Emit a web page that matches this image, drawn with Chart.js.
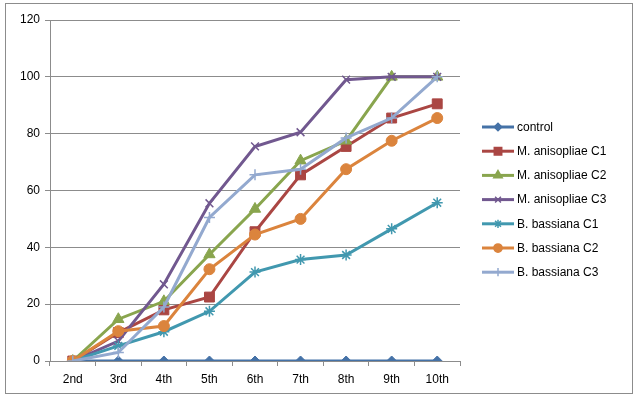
<!DOCTYPE html>
<html>
<head>
<meta charset="UTF-8" />
<style>
 body { margin: 0; background: #fff; }
 #wrap { width: 638px; height: 401px; position: relative; }
</style>
</head>
<body>
<div id="wrap"><canvas id="chart"></canvas></div>
<script src="https://cdn.jsdelivr.net/npm/chart.js@4/dist/chart.umd.min.js"></script>
<script>
// categories (instar)
const categories = ['2nd', '3rd', '4th', '5th', '6th', '7th', '8th', '9th', '10th']

// series values
const control = [0, 0, 0, 0, 0, 0, 0, 0, 0]
const mAnisopliaeC1 = [0, 10, 18, 22.5, 45.5, 65.5, 75.5, 85.5, 90.5]
const mAnisopliaeC2 = [0, 14.7, 21, 37.5, 53.5, 70.5, 77.5, 100, 100]
const mAnisopliaeC3 = [0, 7, 27, 55.5, 75.5, 80.5, 99, 100, 100]
const bBassianaC1 = [0, 5.3, 10.3, 17.5, 31.3, 35.7, 37.3, 46.5, 55.7]
const bBassianaC2 = [0, 10.5, 12.3, 32.3, 44.5, 50, 67.5, 77.5, 85.5]
const bBassianaC3 = [0, 3, 19, 50.5, 65.5, 67.5, 78.5, 85.5, 100]

const seriesNames = ['control', 'M. anisopliae C1', 'M. anisopliae C2', 'M. anisopliae C3',
 'B. bassiana C1', 'B. bassiana C2', 'B. bassiana C3']
const seriesData = [control, mAnisopliaeC1, mAnisopliaeC2, mAnisopliaeC3, bBassianaC1, bBassianaC2, bBassianaC3]
const seriesColors = ['#4572A7', '#AA4643', '#89A54E', '#71588F', '#4198AF', '#DB843D', '#93A9CF']
const seriesMarkers = ['rectRot', 'rect', 'triangle', 'crossRot', 'star', 'circle', 'cross']
const markerSizes = [5, 7, 6.5, 5.5, 5.5, 5.5, 5.5]

const yTicks = [0, 20, 40, 60, 80, 100, 120]

const gridColor = '#8c8c8c'

// border around the whole chart + legend on the right
const framePlugin = {
 id: 'frame',
 afterDraw(chart) {
  const ctx = chart.ctx
  ctx.save()
  ctx.strokeStyle = '#8c8c8c'
  ctx.lineWidth = 1
  ctx.strokeRect(5.5, 3.5, 627, 390)

  // legend
  ctx.font = '12px "Liberation Sans", Arial, sans-serif'
  ctx.textBaseline = 'middle'
  chart.data.datasets.forEach((ds, i) => {
   const y = 127 + i * 24.2
   ctx.strokeStyle = ds.borderColor
   ctx.fillStyle = ds.borderColor
   ctx.lineWidth = 3
   ctx.beginPath()
   ctx.moveTo(482, y)
   ctx.lineTo(514, y)
   ctx.stroke()
   ctx.lineWidth = 1.5
   Chart.helpers.drawPoint(ctx, {
    pointStyle: ds.pointStyle,
    radius: ds.pointRadius * 0.75,
    rotation: 0,
    borderWidth: 1.5
   }, 498, y)
   ctx.fillStyle = '#000'
   ctx.fillText(ds.label, 517, y + 0.5)
  })
  ctx.restore()
 }
}

const datasets = seriesNames.map((name, i) => ({
 label: name,
 data: seriesData[i],
 borderColor: seriesColors[i],
 backgroundColor: seriesColors[i],
 borderWidth: 3,
 pointStyle: seriesMarkers[i],
 pointRadius: markerSizes[i],
 pointBorderWidth: ['crossRot', 'cross', 'star'].includes(seriesMarkers[i]) ? 1.5 : 1,
 pointBorderColor: seriesColors[i],
 pointBackgroundColor: seriesColors[i],
 tension: 0,
 order: seriesNames.length - i // later series drawn on top like Excel
}))

new Chart(document.getElementById('chart'), {
 type: 'line',
 data: { labels: categories, datasets: datasets },
 plugins: [framePlugin],
 options: {
  responsive: true,
  maintainAspectRatio: false,
  animation: false,
  layout: { padding: { left: 5, right: 178, top: 20, bottom: 7 } },
  plugins: {
   legend: { display: false },
   tooltip: { enabled: false }
  },
  scales: {
   x: {
    offset: true,
    grid: { drawOnChartArea: false, drawTicks: true, tickLength: 5, color: gridColor, offset: true },
    border: { display: true, color: gridColor, width: 1 },
    ticks: { color: '#000', padding: 6, font: { size: 12, family: '"Liberation Sans", Arial, sans-serif' } },
    afterFit: s => { s.height = 33 }
   },
   y: {
    min: 0,
    max: 120,
    afterBuildTicks: s => { s.ticks = yTicks.map(v => ({ value: v })) },
    grid: { color: gridColor, tickLength: 5, lineWidth: 1 },
    border: { display: true, color: gridColor, width: 1 },
    ticks: { color: '#000', padding: 5, font: { size: 12, family: '"Liberation Sans", Arial, sans-serif' } },
    afterFit: s => { s.width = 45 }
   }
  }
 }
})
</script>
</body>
</html>
